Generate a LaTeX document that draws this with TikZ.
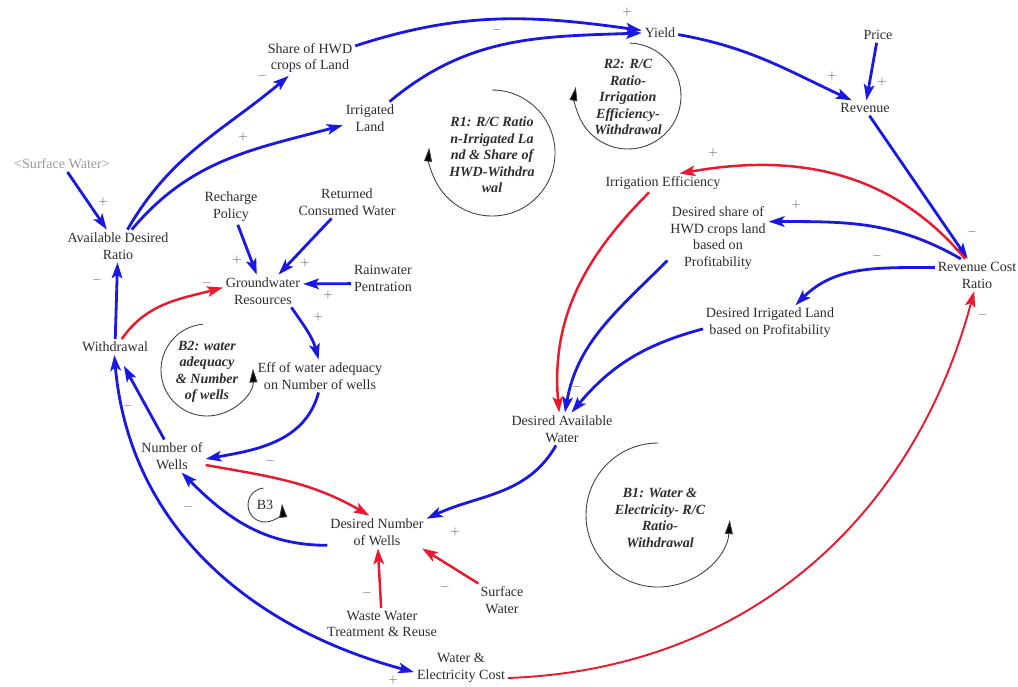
\documentclass[tikz,border=0pt]{standalone}
\usepackage{fontspec}
\setmainfont{Liberation Serif}
\usepackage{tikz}
\usetikzlibrary{arrows.meta}
\definecolor{cldblue}{RGB}{25,25,225}
\definecolor{cldred}{RGB}{235,25,45}
\definecolor{cldtext}{RGB}{45,45,45}
\tikzset{
  var/.style={align=center,font=\fontsize{8}{9.6}\selectfont,text=cldtext,inner sep=1.5pt},
  bl/.style={draw=cldblue,line width=1.6pt,-{Stealth[length=9pt,width=6pt,inset=2pt]}},
  rd/.style={draw=cldred,line width=1.4pt,-{Stealth[length=9pt,width=6pt,inset=2pt]}},
  loopc/.style={draw=black!75,line width=0.5pt,-{Triangle[length=8pt,width=4.5pt,fill=black]}},
  looptxt/.style={align=center,font=\fontsize{8}{9.4}\selectfont\bfseries\itshape,text=cldtext},
  sgn/.style={font=\fontsize{6}{6}\selectfont,text=black!60,inner sep=0pt}
}
\begin{document}
\begin{tikzpicture}[x=0.2mm,y=0.2mm]
\useasboundingbox (0,0) rectangle (1018,-686);

\node[var,text=black!40] (sws) at (62,-164) {\textless Surface Water\textgreater};
\node[var] (adr) at (118,-246) {Available Desired\\Ratio};
\node[var] (shr) at (310,-58) {Share of HWD\\crops of Land};
\node[var] (irl) at (370,-118) {Irrigated\\Land};
\node[var] (yld) at (660,-33) {Yield};
\node[var] (prc) at (878,-35) {Price};
\node[var] (rev) at (865,-108) {Revenue};
\node[var] (rcr) at (977,-275) {Revenue Cost\\Ratio};
\node[var] (ire) at (663,-183) {Irrigation Efficiency};
\node[var] (dsh) at (718,-238) {Desired share of\\HWD crops land\\based on\\Profitability};
\node[var] (dil) at (770,-323) {Desired Irrigated Land\\based on Profitability};
\node[var] (daw) at (562,-429) {Desired Available\\Water};
\node[var] (rcp) at (231,-207) {Recharge\\Policy};
\node[var] (rcw) at (347,-202) {Returned\\Consumed Water};
\node[var] (gwr) at (263,-291) {Groundwater\\Resources};
\node[var] (rwp) at (383,-278) {Rainwater\\Pentration};
\node[var] (wdr) at (115,-347) {Withdrawal};
\node[var] (eff) at (320,-376) {Eff of water adequacy\\on Number of wells};
\node[var] (now) at (172,-456) {Number of\\Wells};
\node[var] (dnw) at (377,-532) {Desired Number\\of Wells};
\node[var] (wwt) at (382,-624) {Waste Water\\Treatment \& Reuse};
\node[var] (srf) at (502,-600) {Surface\\Water};
\node[var] (wec) at (461,-668) {Water \&\\Electricity Cost};

% loops
\draw[loopc] (492,-153) ++(90:63) arc[start angle=90,end angle=-185,radius=63];
\node[looptxt] (r1) at (492,-155) {R1: R/C Ratio\\n-Irrigated La\\nd \& Share of\\HWD-Withdra\\wal};
\draw[loopc] (628,-96) ++(88:53) arc[start angle=88,end angle=-190,radius=53];
\node[looptxt] (r2) at (628,-97) {R2: R/C\\Ratio-\\Irrigation\\Efficiency-\\Withdrawal};
\draw[loopc] (207,-370) ++(95:46) arc[start angle=95,end angle=362,radius=46];
\node[looptxt] (b2) at (207,-372) {B2: water\\adequacy\\\& Number\\of wells};
\draw[loopc] (265,-505) ++(95:17) arc[start angle=95,end angle=365,radius=17];
\node[var] (b3) at (265,-505) {B3};
\draw[loopc] (658,-515) ++(90:72) arc[start angle=90,end angle=356,radius=72];
\node[looptxt] (b1) at (660,-518) {B1: Water \&\\Electricity- R/C\\Ratio-\\Withdrawal};

% blue links
\draw[bl] (sws) -- (adr);
\draw[bl] (adr.60) to[out=60,in=220] (shr.220);
\draw[bl] (adr.50) to[out=50,in=195] (irl.195);
\draw[bl] (shr.15) to[out=18,in=172] (yld.172);
\draw[bl] (irl.40) to[out=40,in=182] (yld.180);
\draw[bl] (yld.-5) to[out=-10,in=155] (rev.150);
\draw[bl] (prc) -- (rev);
\draw[bl] (rev.-60) -- (rcr.120);
\draw[bl] (rcr.135) to[out=150,in=0] (dsh.18);
\draw[bl] (rcr.170) to[out=180,in=45] (dil.35);
\draw[bl] (dsh.204) to[out=225,in=80] (daw.80);
\draw[bl] (dil.185) to[out=195,in=50] (daw.60);
\draw[bl] (daw.250) to[out=240,in=25] (dnw.15);
\draw[bl] (dnw.195) to[out=180,in=-45] (now.-60);
\draw[bl] (eff.265) to[out=255,in=10] (now.-5);
\draw[bl] (gwr.-30) to[out=-55,in=105] (eff.95);
\draw[bl] (rcp) -- (gwr);
\draw[bl] (rcw) -- (gwr);
\draw[bl] (rwp.190) -- (gwr.10);
\draw[bl] (wdr) -- (adr);
\draw[bl,shorten >=2.5mm] (now.115) -- (wdr.-70);
\draw[bl,{Stealth[length=9pt,width=6pt,inset=2pt]}-{Stealth[length=9pt,width=6pt,inset=2pt]}] (wdr.265) to[out=-85,in=165] (wec.185);

% red links
\draw[rd] (rcr.126) to[out=130,in=10] (ire.30);
\draw[rd] (ire.214) to[out=225,in=95] (daw.100);
\draw[rd] (wdr.50) to[out=55,in=195] (gwr.175);
\draw[rd] (now.-15) to[out=-10,in=150] (dnw.115);
\draw[rd] (wwt) -- (dnw);
\draw[rd] (srf.145) -- (dnw.-20);
\draw[rd,line width=1.1pt] (wec.-12) to[out=2,in=-105] (rcr.-100);

% polarities
\foreach \px/\py/\s in {103/202/+,262/76/-,243/137/+,497/30/-,627/12/+,832/76/+,882/82/+,
  972/232/-,713/153/+,796/205/+,877/256/-,577/387/-,455/532/+,270/461/-,188/507/-,
  318/317/+,237/260/+,305/263/+,328/295/+,97/280/-,207/283/-,128/406/-,393/680/+,
  367/593/-,445/587/-,983/315/-}
  \node[sgn] at (\px,-\py) {$\s$};
\end{tikzpicture}
\end{document}
